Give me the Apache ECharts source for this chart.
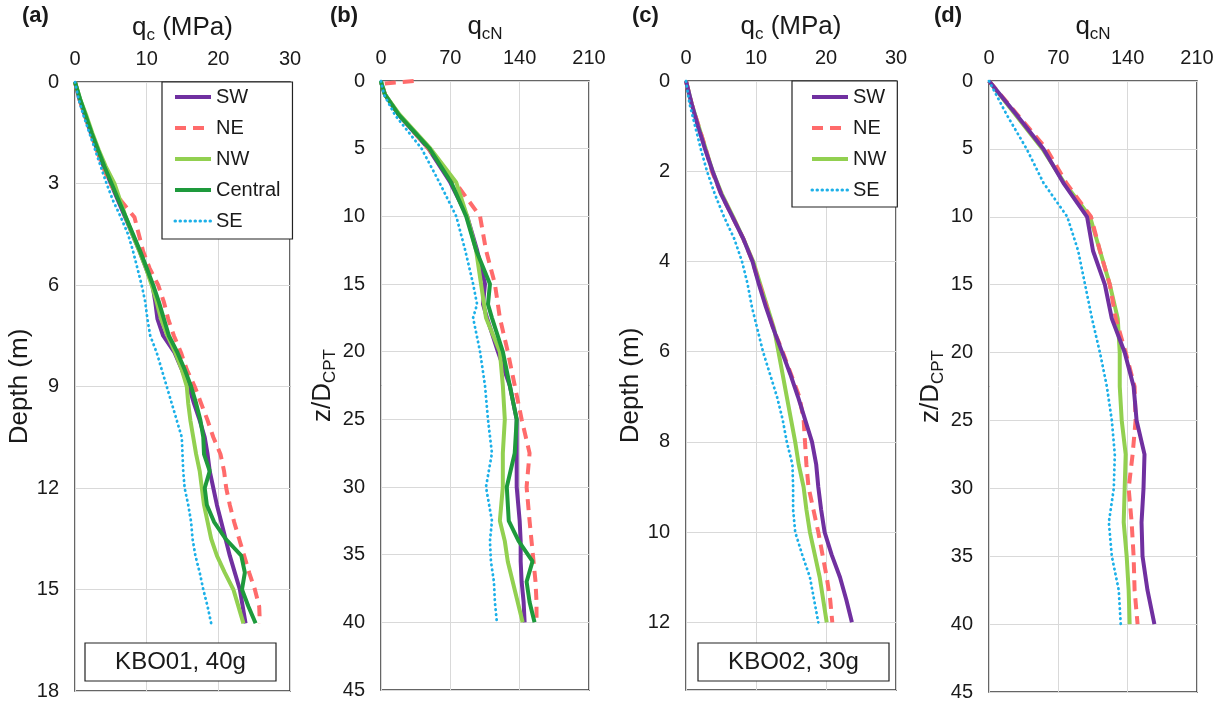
<!DOCTYPE html>
<html><head><meta charset="utf-8">
<script src="https://cdn.jsdelivr.net/npm/echarts@6/dist/echarts.min.js"></script>
<style>html,body{margin:0;padding:0;background:#fff}#c{width:1227px;height:704px}</style>
</head><body><div id="c"></div>
<script>
// ---- Panel (a): qc (MPa) vs depth (m), KBO01 40g ----
const aDepth = [0,0.5,1,1.5,2,2.5,3,3.5,4,4.5,5,5.5,6,6.5,7,7.5,8,8.5,9,9.5,10,10.5,11,11.5,12,12.5,13,13.5,14,14.5,15,15.5,16];
const aSW      = [0,0.6,1.4,2.2,3.1,4.0,5.0,6.0,7.0,8.0,9.0,9.9,10.8,11.2,11.5,12.3,13.9,14.9,15.9,16.6,17.4,18.1,18.5,18.8,19.3,19.8,20.4,21.0,21.6,22.3,23.0,23.4,23.8];
const aNE      = [0,0.6,1.4,2.2,3.0,3.9,4.9,6.4,8.3,8.9,9.5,10.4,11.6,12.4,13.0,13.8,14.8,15.6,16.7,17.6,18.5,19.3,20.3,20.8,21.1,21.6,22.2,22.9,23.6,24.3,25.1,25.7,25.8];
const aNW      = [0,0.7,1.6,2.4,3.3,4.3,5.5,6.3,7.1,8.0,9.0,9.9,10.7,11.4,12.0,12.9,14.0,14.9,15.6,15.8,16.1,16.5,16.9,17.4,17.7,18.0,18.5,19.0,19.8,20.9,22.1,22.8,23.5];
const aCentral = [0,0.7,1.5,2.3,3.2,4.1,5.1,6.1,7.1,8.1,9.1,10.0,10.9,11.7,12.4,13.1,14.3,15.3,16.2,16.9,17.5,17.9,18.0,18.8,18.1,18.4,19.4,21.0,23.2,23.7,23.3,24.2,25.2];
const aSE      = [0,0.5,1.2,2.0,2.8,3.6,4.4,5.3,6.4,7.4,8.1,8.7,9.3,9.8,10.1,10.5,11.4,12.1,12.8,13.5,14.2,14.9,15.0,15.1,15.3,15.8,16.2,16.4,16.8,17.4,17.9,18.5,19.0];

// ---- Panel (b): qcN vs z/D_CPT, KBO01 ----
const bZ       = [0,0.2,1,2.5,5,7.5,10,12.5,15,16.5,17.5,20,22.5,25,27.5,30,32.5,34,35.5,37,38.5,40];
const bSW      = [0,0.5,4,18,48,70,87,97,105,103,107,118,130,137,137,137,140,141,141,142,144,145];
const bNE      = [33,1,4,18,48,75,100,106,115,118,120,128,135,142,150,147,150,152,154,156,157,157];
const bNW      = [0,0.5,4,19,50,76,87,96,101,104,106,120,123,125,123,123,120,125,128,133,138,143];
const bCentral = [0,0.5,4,18,49,71,86,96,110,108,112,123,130,137,135,127,129,139,153,147,150,155];
const bSE      = [0,0.5,3,14,41,59,76,85,93,97,93,100,105,108,112,106,112,110,111,114,115,117];

// ---- Panel (c): qc (MPa) vs depth (m), KBO02 30g ----
const cDepth = [0,0.5,1,1.5,2,2.5,3,3.5,4,4.5,5,5.5,6,6.5,7,7.5,8,8.5,9,9.5,10,10.5,11,11.5,12];
const cSW = [0,0.8,1.7,2.7,3.8,5.0,6.6,8.2,9.5,10.4,11.4,12.5,13.7,14.9,16.0,17.0,18.0,18.6,18.9,19.3,19.8,20.8,22.0,22.9,23.7];
const cNE = [0,0.8,1.8,2.8,3.7,5.0,6.6,8.2,9.5,10.5,11.5,12.5,13.8,15.0,16.2,16.8,17.0,17.2,17.5,18.2,18.9,19.5,20.1,20.6,20.9];
const cNW = [0,0.8,1.8,2.8,3.8,5.1,6.7,8.2,9.6,10.6,11.6,12.6,13.2,13.8,14.4,15.0,15.6,16.1,16.8,17.2,17.7,18.4,19.1,19.6,20.1];
const cSE = [0,0.5,1.3,2.1,3.0,4.1,5.4,6.9,8.0,8.8,9.4,10.2,11.0,12.0,13.0,13.8,14.4,15.2,15.3,15.3,15.6,16.6,17.7,18.3,18.9];

// ---- Panel (d): qcN vs z/D_CPT, KBO02 ----
const dZ  = [0,2.5,5,7.5,10,12.5,15,17.5,20,22.5,25,27.5,30,32.5,35,37.5,40];
const dSW = [0,28,55,75,99,105,117,124,137,146,149,157,156,154,155,160,167];
const dNE = [0,29,58,78,103,112,122,128,138,147,148,145,141,144,146,147,150];
const dNW = [0,27,54,76,102,112,122,130,132,132,134,138,137,136,139,141,142];
const dSE = [0,18,38,55,79,90,97,104,112,119,124,127,126,121,124,131,133];

// tick settings
const qcTicks  = {min:0, max:30, interval:10};
const qcnTicks = {min:0, max:210, interval:70};
const aDepthTicks = {min:0, max:18, interval:3};
const cDepthTicks = {min:0, max:13.5, interval:2};
const zTicks   = {min:0, max:45, interval:5};

const legendA = ['SW','NE','NW','Central','SE'];
const legendC = ['SW','NE','NW','SE'];
const panelLabels = ['(a)','(b)','(c)','(d)'];
const boxLabels = ['KBO01, 40g','KBO02, 30g'];

const FONT = "'Liberation Sans', Arial, sans-serif";
const TXT = '#1a1a1a';
const styles = {
  SW:      {color:'#7030A0', width:4, type:'solid'},
  NE:      {color:'#FF6B6B', width:4, type:[11,7]},
  NW:      {color:'#92D050', width:4, type:'solid'},
  Central: {color:'#1E9A3C', width:4, type:'solid'},
  SE:      {color:'#1CB0E8', width:2.8, type:[0.5,4.5], cap:'round'}
};
const pairs = (xs, ys) => xs.map((x,i)=>[x, ys[i]]);

const grids = [
  {left:75,  top:82, width:215, height:609},
  {left:381, top:81, width:208, height:609},
  {left:686, top:81, width:210, height:609},
  {left:989, top:81, width:208, height:611}
];
const richName = {
  m:{fontSize:26, fontFamily:FONT, color:TXT, lineHeight:32},
  s:{fontSize:17, fontFamily:FONT, color:TXT, verticalAlign:'bottom', lineHeight:17}
};
function xAx(i, ticks, name){
  return Object.assign({type:'value', gridIndex:i, position:'top', name:name, nameLocation:'middle', nameGap:34,
    nameTextStyle:{rich:richName},
    axisLine:{show:false}, axisTick:{show:false},
    axisLabel:{fontSize:20, fontFamily:FONT, color:TXT, margin:13},
    splitLine:{lineStyle:{color:'#d9d9d9', width:1}}}, ticks);
}
function yAx(i, ticks, name, gap){
  return Object.assign({type:'value', gridIndex:i, inverse:true, name:name, nameLocation:'middle', nameGap:gap,
    nameTextStyle:{rich:richName},
    axisLine:{show:false}, axisTick:{show:false},
    axisLabel:{fontSize:20, fontFamily:FONT, color:TXT, margin:16, showMaxLabel: ticks.max % ticks.interval === 0},
    splitLine:{lineStyle:{color:'#d9d9d9', width:1}}}, ticks);
}
const series = [];
function addSeries(i, name, xs, ys){
  const s = styles[name];
  series.push({type:'line', name:name, xAxisIndex:i, yAxisIndex:i, data:pairs(xs, ys),
    symbol:'none', showSymbol:false, smooth:false, silent:true,
    lineStyle:{color:s.color, width:s.width, type:s.type, cap:s.cap||'butt'}, itemStyle:{color:s.color}});
}
addSeries(0,'SW',aSW,aDepth); addSeries(0,'NE',aNE,aDepth); addSeries(0,'NW',aNW,aDepth); addSeries(0,'Central',aCentral,aDepth); addSeries(0,'SE',aSE,aDepth);
addSeries(1,'SW',bSW,bZ); addSeries(1,'NE',bNE,bZ); addSeries(1,'NW',bNW,bZ); addSeries(1,'Central',bCentral,bZ); addSeries(1,'SE',bSE,bZ);
addSeries(2,'NW',cNW,cDepth); addSeries(2,'NE',cNE,cDepth); addSeries(2,'SW',cSW,cDepth); addSeries(2,'SE',cSE,cDepth);
addSeries(3,'NW',dNW,dZ); addSeries(3,'NE',dNE,dZ); addSeries(3,'SW',dSW,dZ); addSeries(3,'SE',dSE,dZ);

const legendItem = n => ({name:n, lineStyle:{width: n === 'SE' ? 3 : 4}});
const legendBase = {orient:'vertical', selectedMode:false, itemWidth:36, itemHeight:20, itemGap:11,
  itemStyle:{opacity:0},
  textStyle:{fontSize:20, fontFamily:FONT, color:TXT, lineHeight:20},
  borderColor:'#222', borderWidth:1.2, backgroundColor:'#fff', borderRadius:0};

const graphics = [];
const labelPos = [[36,17],[344,17],[646,17],[948,17]];
panelLabels.forEach((t,i)=>graphics.push({type:'text', left:labelPos[i][0]-14, top:labelPos[i][1]-12,
  style:{text:t, font:'bold 22px '+FONT, fill:TXT}}));
[[85,643],[698,643]].forEach((p,i)=>{
  graphics.push({type:'rect', shape:{x:p[0], y:p[1], width:191, height:38}, style:{fill:'#fff', stroke:'#222', lineWidth:1.2}, z:10});
  graphics.push({type:'text', x:p[0]+95.5, y:p[1]+19, style:{text:boxLabels[i], font:'24px '+FONT, fill:TXT, align:'center', verticalAlign:'middle'}, z:11});
});

const option = {
  animation:false,
  grid: grids.map(g=>Object.assign({show:true, borderColor:'#333', borderWidth:1.5, backgroundColor:'transparent', containLabel:false}, g)),
  xAxis:[xAx(0,qcTicks,'{m|q}{s|c}{m| (MPa)}'), xAx(1,qcnTicks,'{m|q}{s|cN}'), xAx(2,qcTicks,'{m|q}{s|c}{m| (MPa)}'), xAx(3,qcnTicks,'{m|q}{s|cN}')],
  yAxis:[yAx(0,aDepthTicks,'{m|Depth (m)}',35), yAx(1,zTicks,'{m|z/D}{s|CPT}',42), yAx(2,cDepthTicks,'{m|Depth (m)}',39), yAx(3,zTicks,'{m|z/D}{s|CPT}',38)],
  legend:[
    Object.assign({}, legendBase, {data:legendA.map(legendItem), left:162, top:82, padding:[5,12,8,11]}),
    Object.assign({}, legendBase, {data:legendC.map(legendItem), left:792, top:81, padding:[6,11,7,18]})
  ],
  graphic: graphics,
  series: series
};
const chart = echarts.init(document.getElementById('c'), null, {renderer:'canvas'});
chart.setOption(option);
</script></body></html>
